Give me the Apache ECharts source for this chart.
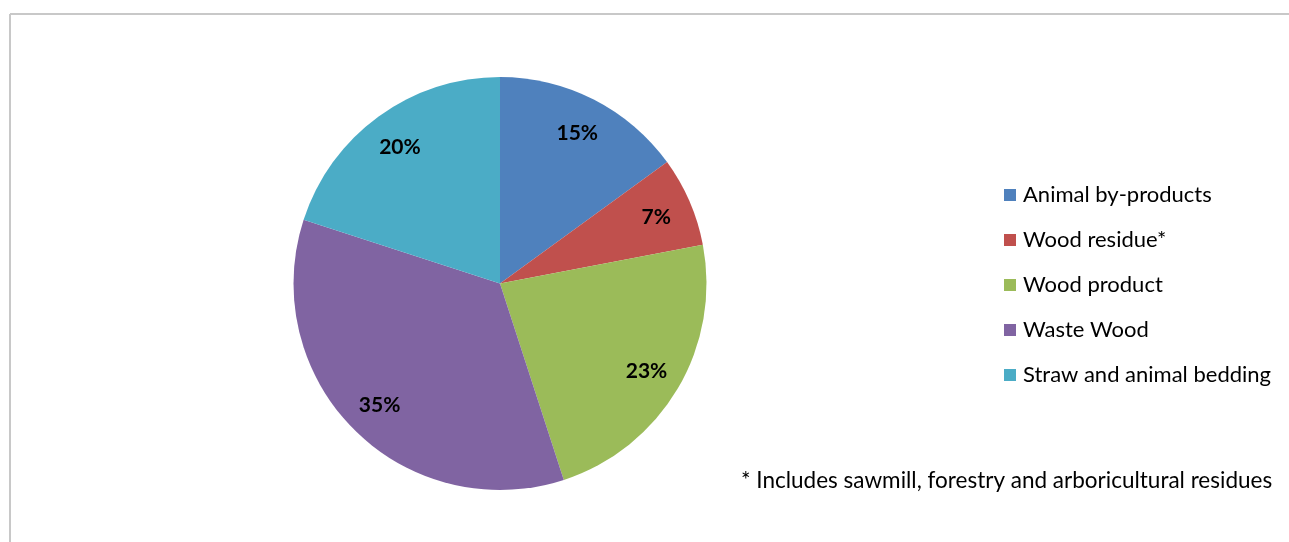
<!DOCTYPE html>
<html>
<head>
<meta charset="utf-8">
<script src="https://cdn.jsdelivr.net/npm/echarts@6/dist/echarts.min.js"></script>
<style>
  html, body { margin: 0; padding: 0; background: #ffffff; }
  #chart { width: 1289px; height: 542px; }
</style>
</head>
<body>
<div id="chart"></div>
<script>
// Share of feedstock by source (%)
const categories = ['Animal by-products', 'Wood residue*', 'Wood product', 'Waste Wood', 'Straw and animal bedding'];
const shares = [15, 7, 23, 35, 20];
const colors = ['#4F81BD', '#C0504D', '#9BBB59', '#8064A2', '#4BACC6'];
const footnote = '* Includes sawmill, forestry and arboricultural residues';

const FONT = 'Lato, "Open Sans", "Liberation Sans", sans-serif';
const CENTER = [500, 283.5];
const R = 206.5;

const data = categories.map((name, i) => ({ name: name, value: shares[i] }));

const chart = echarts.init(document.getElementById('chart'), null, { renderer: 'canvas' });
chart.setOption({
  animation: false,
  color: colors,
  legend: {
    orient: 'vertical',
    left: 999,
    top: 179,
    itemWidth: 12,
    itemHeight: 12,
    itemGap: 23,
    icon: 'rect',
    selectedMode: false,
    data: categories,
    textStyle: { fontFamily: FONT, fontSize: 22, color: '#000', lineHeight: 22, padding: [0, 0, 0, 2] }
  },
  graphic: [
    { type: 'line', shape: { x1: 10, y1: 14, x2: 1289, y2: 14 }, style: { stroke: '#c8c8c8', lineWidth: 2 } },
    { type: 'line', shape: { x1: 10, y1: 14, x2: 10, y2: 542 }, style: { stroke: '#c8c8c8', lineWidth: 2 } },
    {
      type: 'text', left: 741, top: 469,
      style: { text: footnote, fontFamily: FONT, fontSize: 22.5, fill: '#000' }
    }
  ],
  series: [
    {
      type: 'pie',
      center: CENTER,
      radius: [0, R],
      startAngle: 90,
      clockwise: true,
      silent: true,
      label: { show: false },
      labelLine: { show: false },
      data: data
    },
    {
      // transparent ring that places the percentage labels near the rim
      type: 'pie',
      center: [CENTER[0], CENTER[1] + 1.5],
      radius: [128, R],
      startAngle: 90,
      clockwise: true,
      silent: true,
      legendHoverLink: false,
      itemStyle: { color: 'rgba(0,0,0,0)' },
      label: {
        show: true,
        position: 'inside',
        formatter: p => p.value + '%',
        fontFamily: FONT,
        fontWeight: 'bold',
        fontSize: 21,
        color: '#000'
      },
      labelLine: { show: false },
      data: data.map(d => ({ name: d.name + ' ', value: d.value }))
    }
  ]
});
</script>
</body>
</html>
